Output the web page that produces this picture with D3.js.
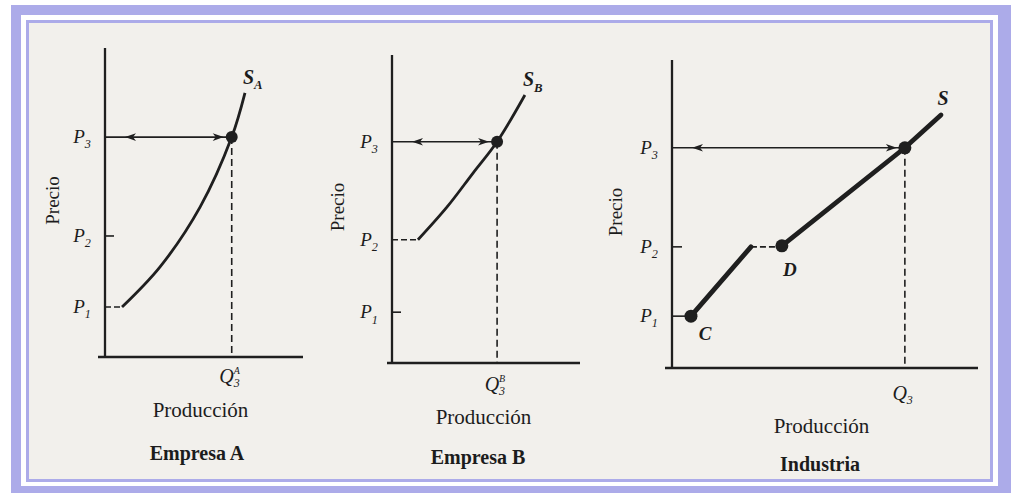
<!DOCTYPE html>
<html>
<head>
<meta charset="utf-8">
<script src="https://cdn.jsdelivr.net/npm/d3@7"></script>
<style>
  html, body { margin: 0; padding: 0; background: #ffffff; }
  svg { display: block; }
  text { font-family: "Liberation Serif", "DejaVu Serif", serif; fill: #1c1c1c; }
</style>
</head>
<body>
<div id="chart"></div>
<script>
// ---------------- DATA ----------------
const panelTitles = ["Empresa A", "Empresa B", "Industria"];
const xAxisTitle = "Producción";
const yAxisTitle = "Precio";
const priceLabels = ["1", "2", "3"];            // subscripts of P
const supplyLabels = ["A", "B", ""];            // subscripts of S
const quantityLabels = ["A", "B", ""];          // superscripts of Q3

// price levels (P1, P2, P3) in each panel, units of the price axis (0..6)
const pricesA = [0.97, 2.35, 4.27];
const pricesB = [0.99, 2.40, 4.31];
const pricesInd = [1.01, 2.36, 4.29];

// firm A supply curve (output units 0..100, price units)
const supplyA_q = [8.6, 27.8, 48.0, 64.0, 70.7];
const supplyA_p = [0.97, 1.75, 2.91, 4.27, 5.13];
// firm B supply curve
const supplyB_q = [13.8, 29.3, 43.1, 55.9, 70.7];
const supplyB_p = [2.40, 3.04, 3.70, 4.31, 5.22];
// industry supply: lower segment C -> kink, gap at P2, upper segment D -> S
const indLow_q = [6.2, 25.8];
const indLow_p = [1.01, 2.36];
const indHigh_q = [35.9, 76.1, 87.9];
const indHigh_p = [2.38, 4.29, 4.93];
const indPointNames = ["C", "D"];

// equilibrium output at P3
const q3 = [64.0, 55.9, 76.1];

// ---------------- LAYOUT ----------------
const W = 1013, H = 493;
const lav = "#acabe9", ink = "#1f1f1f", paper = "#f2f0ec";

const svg = d3.select("#chart").append("svg").attr("width", W).attr("height", H);

// frame
svg.append("rect").attr("x", 11).attr("y", 5).attr("width", 1000).attr("height", 488).attr("fill", lav);
svg.append("rect").attr("x", 21).attr("y", 15).attr("width", 977).attr("height", 471).attr("fill", "#ffffff");
svg.append("rect").attr("x", 26).attr("y", 20).attr("width", 967).attr("height", 462).attr("fill", lav);
svg.append("rect").attr("x", 29).attr("y", 23).attr("width", 961).attr("height", 456).attr("fill", paper);

const layouts = [
  { x0: 105, x1: 303, y0: 357, y1: 48, over: 7, precioX: 52,  prodY: 417, titleY: 460, titleX: 197, qY: 383 },
  { x0: 392, x1: 580, y0: 363, y1: 55, over: 5, precioX: 337, prodY: 424, titleY: 464, titleX: 478, qY: 391 },
  { x0: 672, x1: 978, y0: 368, y1: 60, over: 7, precioX: 615, prodY: 433, titleY: 471, titleX: 820, qY: 400 }
];
const priceSets = [pricesA, pricesB, pricesInd];

function subLabel(g, x, y, main, sub, opt) {
  const t = g.append("text").attr("x", x).attr("y", y)
    .attr("text-anchor", opt.anchor || "middle")
    .style("font-size", opt.size + "px").style("font-style", "italic")
    .style("font-weight", opt.bold ? "bold" : "normal");
  t.append("tspan").text(main);
  if (sub) t.append("tspan").attr("dy", opt.size * 0.28).style("font-size", (opt.size * 0.64) + "px").text(sub);
  return t;
}

function arrowHead(g, x, y, dir) {
  // dir -1 left, +1 right; tip at x
  const L = 11, h = 3.8;
  g.append("path")
    .attr("d", `M${x},${y} L${x - dir * L},${y - h} L${x - dir * L + dir * 3},${y} L${x - dir * L},${y + h} Z`)
    .attr("fill", ink);
}

layouts.forEach((L, i) => {
  const g = svg.append("g");
  const x = d3.scaleLinear().domain([0, 100]).range([L.x0, L.x1]);
  const y = d3.scaleLinear().domain([0, 6]).range([L.y0, L.y1]);
  const P = priceSets[i];

  // axes
  g.append("line").attr("x1", x(0)).attr("x2", x(0)).attr("y1", y(6)).attr("y2", y(0) + 1)
    .attr("stroke", ink).attr("stroke-width", 2.3);
  g.append("line").attr("x1", x(0) - L.over).attr("x2", x(100)).attr("y1", y(0)).attr("y2", y(0))
    .attr("stroke", ink).attr("stroke-width", 2.3);

  // price labels
  P.forEach((p, k) => {
    subLabel(g, x(0) - 23, y(p) + 6, "P", priceLabels[k], { size: 19 });
  });

  // y title
  g.append("text").attr("transform", `translate(${L.precioX},${y(3) - 2}) rotate(-90)`)
    .attr("text-anchor", "middle").attr("dy", "0.35em")
    .style("font-size", "19px").text(yAxisTitle);
  // x title
  g.append("text").attr("x", (x(0) - L.over + x(100)) / 2).attr("y", L.prodY)
    .attr("text-anchor", "middle").style("font-size", "21px").text(xAxisTitle);
  // panel title
  g.append("text").attr("x", L.titleX).attr("y", L.titleY)
    .attr("text-anchor", "middle").style("font-size", "20px").style("font-weight", "bold")
    .text(panelTitles[i]);

  // dashed vertical at Q3
  g.append("line").attr("x1", x(q3[i])).attr("x2", x(q3[i])).attr("y1", y(P[2])).attr("y2", y(0))
    .attr("stroke", ink).attr("stroke-width", 1.6).attr("stroke-dasharray", "7,4");

  // Q label
  const qx = x(q3[i]);
  g.append("text").attr("x", qx + 2).attr("y", L.qY).attr("text-anchor", "end")
    .style("font-size", "20px").style("font-style", "italic").text("Q");
  g.append("text").attr("x", qx + 2).attr("y", L.qY + 4).style("font-size", "12px").style("font-style", "italic").text("3");
  if (quantityLabels[i])
    g.append("text").attr("x", qx + 2).attr("y", L.qY - 9).style("font-size", "10px").style("font-style", "italic").text(quantityLabels[i]);

  // P3 double arrow line
  g.append("line").attr("x1", x(0)).attr("x2", x(q3[i]) - 4).attr("y1", y(P[2])).attr("y2", y(P[2]))
    .attr("stroke", ink).attr("stroke-width", 1.6);
  arrowHead(g, x(0) + 20, y(P[2]), -1);
  arrowHead(g, x(q3[i]) - 8, y(P[2]), 1);

  const line = d3.line().x(d => x(d[0])).y(d => y(d[1]));

  if (i < 2) {
    const qs = i === 0 ? supplyA_q : supplyB_q;
    const ps = i === 0 ? supplyA_p : supplyB_p;
    const pts = qs.map((q, k) => [q, ps[k]]);
    const startP = i === 0 ? P[0] : P[1];
    // dashed lead-in from the axis
    g.append("line").attr("x1", x(0)).attr("x2", x(qs[0])).attr("y1", y(startP)).attr("y2", y(startP))
      .attr("stroke", ink).attr("stroke-width", 1.6).attr("stroke-dasharray", "6,3");
    g.append("path").datum(pts).attr("d", line.curve(d3.curveCatmullRom.alpha(0.5)))
      .attr("fill", "none").attr("stroke", ink).attr("stroke-width", 2.8);
    // tick for the remaining price level
    const tickP = i === 0 ? P[1] : P[0];
    g.append("line").attr("x1", x(0)).attr("x2", x(0) + 9).attr("y1", y(tickP)).attr("y2", y(tickP))
      .attr("stroke", ink).attr("stroke-width", 1.6);
    // equilibrium dot
    g.append("circle").attr("cx", x(q3[i])).attr("cy", y(P[2])).attr("r", 6).attr("fill", ink);
    // S label
    const last = pts[pts.length - 1];
    subLabel(g, x(last[0]) - 2, y(last[1]) - 9, "S", supplyLabels[i], { size: 20, bold: true, anchor: "start" });
  } else {
    const low = indLow_q.map((q, k) => [q, indLow_p[k]]);
    const high = indHigh_q.map((q, k) => [q, indHigh_p[k]]);
    // P1 lead-in
    g.append("line").attr("x1", x(0)).attr("x2", x(low[0][0])).attr("y1", y(P[0])).attr("y2", y(P[0]))
      .attr("stroke", ink).attr("stroke-width", 1.6);
    // P2 tick
    g.append("line").attr("x1", x(0)).attr("x2", x(0) + 10).attr("y1", y(P[1])).attr("y2", y(P[1]))
      .attr("stroke", ink).attr("stroke-width", 1.6);
    g.append("path").datum(low).attr("d", line.curve(d3.curveLinear))
      .attr("fill", "none").attr("stroke", ink).attr("stroke-width", 4.8).attr("stroke-linecap", "round");
    // dashed gap at P2
    g.append("line").attr("x1", x(low[1][0])).attr("x2", x(high[0][0])).attr("y1", y(low[1][1])).attr("y2", y(low[1][1]))
      .attr("stroke", ink).attr("stroke-width", 1.6).attr("stroke-dasharray", "6,3");
    g.append("path").datum(high).attr("d", line.curve(d3.curveLinear))
      .attr("fill", "none").attr("stroke", ink).attr("stroke-width", 4.8).attr("stroke-linecap", "round");
    // dots
    [low[0], high[0], [q3[i], P[2]]].forEach(d => {
      g.append("circle").attr("cx", x(d[0])).attr("cy", y(d[1])).attr("r", 6.5).attr("fill", ink);
    });
    // C and D labels
    g.append("text").attr("x", x(low[0][0]) + 14).attr("y", y(low[0][1]) + 24)
      .attr("text-anchor", "middle").style("font-size", "19px").style("font-style", "italic").style("font-weight", "bold")
      .text(indPointNames[0]);
    g.append("text").attr("x", x(high[0][0]) + 8).attr("y", y(high[0][1]) + 30)
      .attr("text-anchor", "middle").style("font-size", "19px").style("font-style", "italic").style("font-weight", "bold")
      .text(indPointNames[1]);
    const last = high[high.length - 1];
    g.append("text").attr("x", x(last[0]) + 2).attr("y", y(last[1]) - 10)
      .attr("text-anchor", "middle").style("font-size", "20px").style("font-style", "italic").style("font-weight", "bold")
      .text("S");
  }
});
</script>
</body>
</html>
